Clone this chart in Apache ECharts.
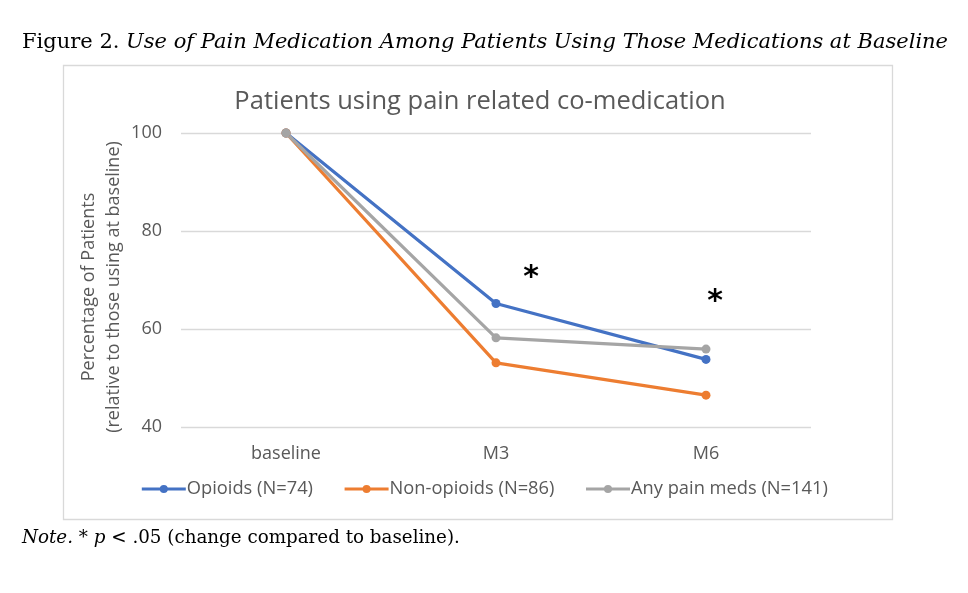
<!DOCTYPE html>
<html><head><meta charset="utf-8">
<script src="https://cdn.jsdelivr.net/npm/echarts@6/dist/echarts.min.js"></script>
<style>html,body{margin:0;padding:0;background:#fff}#c{width:968px;height:593px}</style>
</head><body><div id="c"></div>
<script>
const categories = ['baseline', 'M3', 'M6'];
const opioids = [100, 65.2, 53.8];
const nonOpioids = [100, 53.1, 46.5];
const anyPain = [100, 58.2, 55.9];
const seriesNames = ['Opioids (N=74)', 'Non-opioids (N=86)', 'Any pain meds (N=141)'];
const yTicks = [40, 60, 80, 100];
const sigMarks = [['M3', 70.4], ['M6', 65.5]];

const chart = echarts.init(document.getElementById('c'));
const fontUI = 'Open Sans, Noto Sans, sans-serif';
const mkSeries = (name, data, color, extra) => Object.assign({
  name, type: 'line', data,
  symbol: 'circle', symbolSize: 9,
  lineStyle: { width: 3.2, color }, itemStyle: { color },
  emphasis: { disabled: true }
}, extra || {});
const star = (off) => ({ show: true, formatter: '*', offset: off, fontSize: 30, fontWeight: 'bold', color: '#000', fontFamily: 'DejaVu Sans' });

chart.setOption({
  animation: false,
  title: {
    text: 'Patients using pain related co-medication',
    left: 475, top: 84, textAlign: 'center',
    textStyle: { fontFamily: fontUI, fontSize: 25.5, fontWeight: 'normal', color: '#595959' }
  },
  legend: {
    data: seriesNames, bottom: 90, left: 'center', itemWidth: 44, itemHeight: 10, itemGap: 30,
    itemStyle: {}, lineStyle: { width: 3.2 },
    textStyle: { fontFamily: fontUI, fontSize: 18.3, color: '#595959', padding: [0, 0, 0, -4] }
  },
  grid: { left: 181, right: 157, top: 133, bottom: 166 },
  xAxis: {
    type: 'category', data: categories, boundaryGap: true,
    axisLine: { show: false }, axisTick: { show: false },
    axisLabel: { fontFamily: fontUI, fontSize: 18, color: '#595959', margin: 18 }
  },
  yAxis: {
    type: 'value', min: yTicks[0], max: yTicks[yTicks.length - 1], interval: 20,
    axisLine: { show: false }, axisTick: { show: false },
    splitLine: { lineStyle: { color: '#d9d9d9', width: 1.3 } },
    axisLabel: { fontFamily: fontUI, fontSize: 18, color: '#595959', margin: 19 },
    name: 'Percentage of Patients\n(relative to those using at baseline)',
    nameLocation: 'middle', nameGap: 55, nameRotate: 90, nameMoveOverlap: false,
    nameTextStyle: { fontFamily: fontUI, fontSize: 18, color: '#595959', lineHeight: 25, padding: [0, 14, 0, 0] }
  },
  series: [
    mkSeries(seriesNames[0], opioids, '#4472C4', {
      markPoint: {
        symbol: 'circle', symbolSize: 0, silent: true,
        data: [
          { coord: sigMarks[0], label: star([35, 0]) },
          { coord: sigMarks[1], label: star([9, 0]) }
        ]
      }
    }),
    mkSeries(seriesNames[1], nonOpioids, '#ED7D31'),
    mkSeries(seriesNames[2], anyPain, '#A5A5A5')
  ],
  graphic: [
    { type: 'rect', shape: { x: 63.5, y: 65.5, width: 829, height: 454 }, style: { fill: null, stroke: '#d9d9d9', lineWidth: 1.3 }, z: -1 },
    { type: 'text', left: 22, top: 32, style: {
      text: '{r|Figure 2. }{i|Use of Pain Medication Among Patients Using Those Medications at Baseline}',
      rich: {
        r: { fontFamily: 'DejaVu Serif', fontSize: 21, fill: '#000' },
        i: { fontFamily: 'DejaVu Serif', fontStyle: 'italic', fontSize: 21, fill: '#000' }
      } } },
    { type: 'text', left: 22, top: 529, style: {
      text: '{i|Note.}{r| * }{i|p}{r| < .05 (change compared to baseline).}',
      rich: {
        r: { fontFamily: 'DejaVu Serif', fontSize: 18.3, fill: '#000' },
        i: { fontFamily: 'DejaVu Serif', fontStyle: 'italic', fontSize: 18.3, fill: '#000' }
      } } }
  ]
});
</script></body></html>
